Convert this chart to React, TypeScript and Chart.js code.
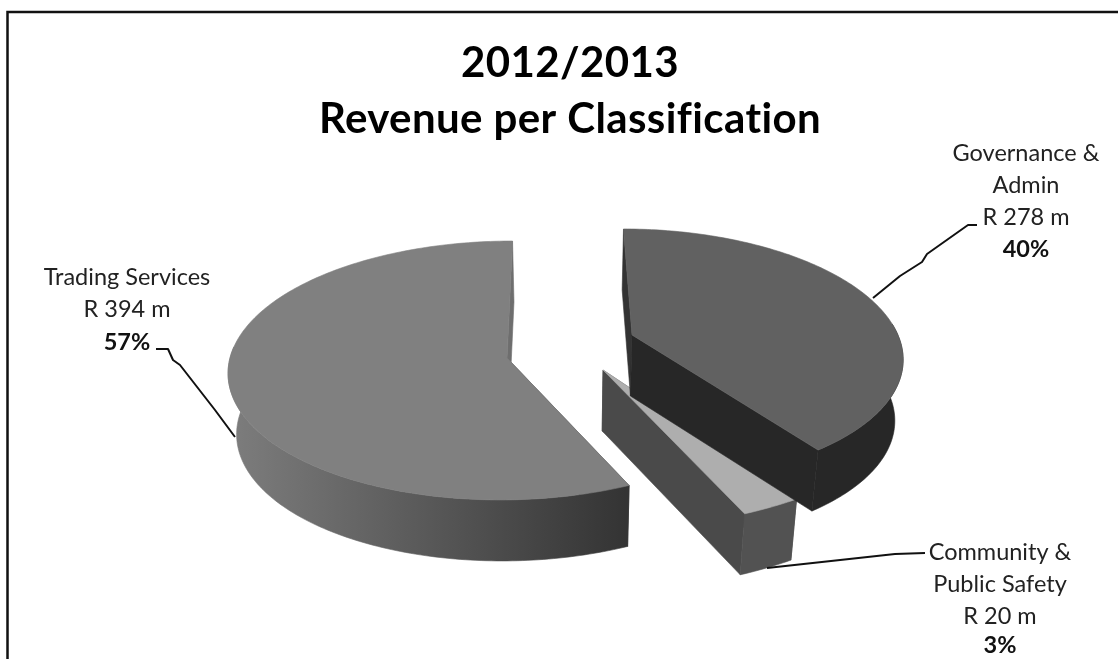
import { useEffect, useRef } from "react";
import { Chart, registerables } from "chart.js";

Chart.register(...registerables);

// Revenue per classification, R million
const categories = ["Governance & Admin", "Community & Public Safety", "Trading Services"];
const revenue = [278, 20, 394];
const shareLabels = ["40%", "3%", "57%"];
const amountLabels = ["R 278 m", "R 20 m", "R 394 m"];
const labelLines = [["Governance &", "Admin"], ["Community &", "Public Safety"], ["Trading Services"]];
const titleLines = ["2012/2013", "Revenue per Classification"];
const topColours = ["#616161", "#aeaeae", "#808080"];

// Per-slice look: explosion from the pie centre, size, perspective strength, wall shades
const sliceStyles = [
  { dx: 62, dy: -10, scale: 0.96, persp: 0.159, flat: 0.462, outer: "#272727", radial: "#272727", radialBack: "#333333" },
  { dx: 33, dy: 25, scale: 1.184, persp: 0.02, flat: 0.475, outer: "#525252", radial: "#4a4a4a", radialBack: "#4a4a4a" },
  { dx: -63, dy: 13, scale: 1, persp: 0.0965, flat: 0.463, outer: ["#7c7c7c", "#343434"], radial: "#6e6e6e", radialBack: "#3a3a3a" },
];
const paintOrder = [1, 0, 2];
const DEPTH = 61;
const WALL_TAPER = 0.975;

// Text placement and leader lines for the callouts
const calloutStyles = [
  { x: 1026, ys: [153, 185, 217, 249], leader: [[977, 225], [968, 225], [927, 254], [922, 262], [900, 276], [873, 298]] },
  { x: 1000, ys: [552, 584, 616, 645], leader: [[925, 553], [895, 554], [767, 568]] },
  { x: 127, ys: [277, 309, 342], leader: [[156, 349], [168, 349], [173, 360], [180, 365], [215, 410], [235, 437]] },
];

const pie3d = {
  id: "pie3d",
  beforeDraw(chart: any) {
    // a hair of tracking also turns off the font's "ti" ligature in the title
    chart.ctx.letterSpacing = "0.4px";
  },
  beforeDatasetDraw(chart: any, args: any) {
    const ctx = chart.ctx;
    const arcs = chart.getDatasetMeta(args.index).data;
    paintOrder.forEach((i) => {
      const arc = arcs[i];
      const st = sliceStyles[i];
      const R = arc.outerRadius * st.scale;
      const project = (a: number, r: number) => {
        const y = Math.sin(a) * r;
        const w = 1 - st.persp * y;
        return [arc.x + (st.dx + R * Math.cos(a) * r) / w, arc.y + st.dy + (R * st.flat * y) / w];
      };
      const drop = (p: number[]) => [arc.x + (p[0] - arc.x) * WALL_TAPER, p[1] + DEPTH];
      const fillPoly = (pts: number[][], fill: any) => {
        ctx.beginPath();
        pts.forEach((p, n) => (n ? ctx.lineTo(p[0], p[1]) : ctx.moveTo(p[0], p[1])));
        ctx.closePath();
        ctx.fillStyle = fill;
        ctx.strokeStyle = fill;
        ctx.lineWidth = 0.6;
        ctx.fill();
        ctx.stroke();
      };
      const steps = Math.max(2, Math.ceil(((arc.endAngle - arc.startAngle) * 180) / Math.PI));
      const rim: number[][] = [];
      const frontRim: number[][] = [];
      for (let n = 0; n <= steps; n++) {
        const a = arc.startAngle + ((arc.endAngle - arc.startAngle) * n) / steps;
        const p = project(a, 1);
        rim.push(p);
        // the far side of the rim never faces the viewer
        if (Math.sin(a) > -0.1) frontRim.push(p);
      }
      const apex = project(0, 0);
      const first = rim[0];
      const last = rim[rim.length - 1];
      fillPoly([apex, first, drop(first), drop(apex)], st.radialBack);
      fillPoly([apex, last, drop(last), drop(apex)], st.radial);
      // outer wall
      let outerFill: any = st.outer;
      if (Array.isArray(st.outer)) {
        const g = ctx.createLinearGradient(235, 0, 625, 0);
        g.addColorStop(0, st.outer[0]);
        g.addColorStop(1, st.outer[1]);
        outerFill = g;
      }
      fillPoly([...frontRim, ...frontRim.map(drop).reverse()], outerFill);
      // top face
      fillPoly([apex, ...rim], arc.options.backgroundColor);
    });
    return false;
  },
  afterDraw(chart: any) {
    const ctx = chart.ctx;
    ctx.save();
    ctx.letterSpacing = "0px";
    // frame: left and top edges only
    ctx.strokeStyle = "#111111";
    ctx.lineWidth = 2.5;
    ctx.beginPath();
    ctx.moveTo(7.5, chart.height + 2);
    ctx.lineTo(7.5, 12);
    ctx.lineTo(chart.width + 2, 12);
    ctx.stroke();
    // callouts
    ctx.textAlign = "center";
    ctx.textBaseline = "middle";
    calloutStyles.forEach((c, i) => {
      const lines = [...labelLines[i], amountLabels[i]];
      ctx.font = "23.5px Lato";
      ctx.fillStyle = "#222222";
      lines.forEach((t, n) => ctx.fillText(t, c.x, c.ys[n]));
      ctx.font = "bold 23.5px Lato";
      ctx.fillStyle = "#111111";
      ctx.fillText(shareLabels[i], c.x, c.ys[lines.length]);
      ctx.strokeStyle = "#111111";
      ctx.lineWidth = 2;
      ctx.lineJoin = "round";
      ctx.beginPath();
      c.leader.forEach((p, n) => (n ? ctx.lineTo(p[0], p[1]) : ctx.moveTo(p[0], p[1])));
      ctx.stroke();
    });
    ctx.restore();
  },
};

export default function App() {
  const ref = useRef<HTMLCanvasElement | null>(null);
  useEffect(() => {
    const chart = new Chart(ref.current as HTMLCanvasElement, {
      type: "pie",
      data: {
        labels: categories,
        datasets: [{ data: revenue, backgroundColor: topColours, borderWidth: 0 }],
      },
      options: {
        animation: false,
        responsive: false,
        radius: 277,
        layout: { padding: { left: 22, bottom: 116 } },
        plugins: {
          legend: { display: false },
          tooltip: { enabled: false },
          title: {
            display: true,
            text: titleLines,
            color: "#000000",
            padding: { top: 35, bottom: 0 },
            font: { family: "Lato", size: 42, weight: "bold", lineHeight: 1.333 },
          },
        },
      } as any,
      plugins: [pie3d],
    });
    return () => chart.destroy();
  }, []);
  return (
    <canvas
      ref={ref}
      width={1118}
      height={659}
      style={{ position: "fixed", left: 0, top: 0, width: 1118, height: 659, background: "#ffffff" }}
    />
  );
}
